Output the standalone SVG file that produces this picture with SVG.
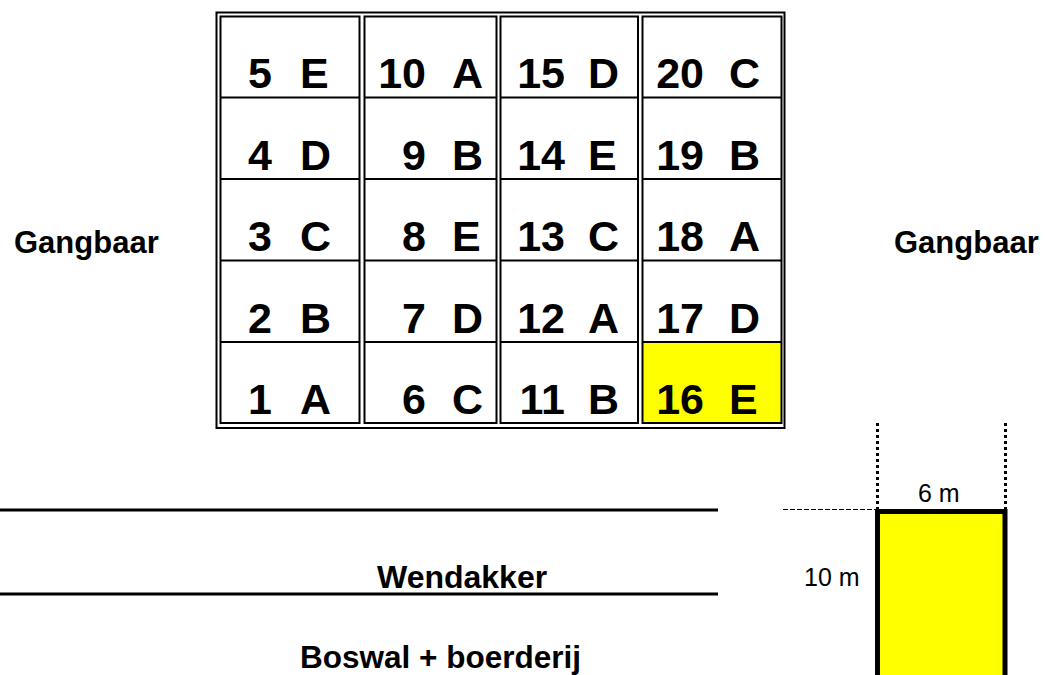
<svg xmlns="http://www.w3.org/2000/svg" width="1046" height="675" viewBox="0 0 1046 675">
<style>
.frame{fill:none;stroke:#000;stroke-width:2}
.row{stroke:#000;stroke-width:2}
.num{font-family:"Liberation Sans",Arial,sans-serif;font-weight:bold;font-size:43px;fill:#000}
.n{text-anchor:end}
.lbl{font-family:"Liberation Sans",Arial,sans-serif;font-weight:bold;font-size:31px;fill:#000}
.dim{font-family:"Liberation Sans",Arial,sans-serif;font-size:25px;fill:#000}
</style>
<rect width="1046" height="675" fill="#fff"/>
<g id="grid">
<rect class="frame" x="216.5" y="12.5" width="568" height="415.5"/>
<rect x="643" y="342" width="139" height="81" fill="#ffff00"/>
<rect class="frame" x="220.5" y="16.5" width="139" height="406.5"/>
<rect class="frame" x="364.5" y="16.5" width="132" height="406.5"/>
<rect class="frame" x="500.5" y="16.5" width="137.5" height="406.5"/>
<rect class="frame" x="642.5" y="16.5" width="139" height="406.5"/>
<g class="row">
<line x1="220.5" y1="97.5" x2="359.5" y2="97.5"/><line x1="220.5" y1="179" x2="359.5" y2="179"/><line x1="220.5" y1="260.5" x2="359.5" y2="260.5"/><line x1="220.5" y1="342" x2="359.5" y2="342"/>
<line x1="364.5" y1="97.5" x2="496.5" y2="97.5"/><line x1="364.5" y1="179" x2="496.5" y2="179"/><line x1="364.5" y1="260.5" x2="496.5" y2="260.5"/><line x1="364.5" y1="342" x2="496.5" y2="342"/>
<line x1="500.5" y1="97.5" x2="638" y2="97.5"/><line x1="500.5" y1="179" x2="638" y2="179"/><line x1="500.5" y1="260.5" x2="638" y2="260.5"/><line x1="500.5" y1="342" x2="638" y2="342"/>
<line x1="642.5" y1="97.5" x2="781.5" y2="97.5"/><line x1="642.5" y1="179" x2="781.5" y2="179"/><line x1="642.5" y1="260.5" x2="781.5" y2="260.5"/><line x1="642.5" y1="342" x2="781.5" y2="342"/>
</g>
</g>
<g id="cells">
<text class="num n" x="272" y="88">5</text><text class="num" x="300" y="88">E</text>
<text class="num n" x="272" y="169.5">4</text><text class="num" x="300" y="169.5">D</text>
<text class="num n" x="272" y="251">3</text><text class="num" x="300" y="251">C</text>
<text class="num n" x="272" y="332.5">2</text><text class="num" x="300" y="332.5">B</text>
<text class="num n" x="272" y="414">1</text><text class="num" x="300" y="414">A</text>
<text class="num n" x="426" y="88">10</text><text class="num" x="452" y="88">A</text>
<text class="num n" x="426" y="169.5">9</text><text class="num" x="452" y="169.5">B</text>
<text class="num n" x="426" y="251">8</text><text class="num" x="452" y="251">E</text>
<text class="num n" x="426" y="332.5">7</text><text class="num" x="452" y="332.5">D</text>
<text class="num n" x="426" y="414">6</text><text class="num" x="452" y="414">C</text>
<text class="num n" x="565" y="88">15</text><text class="num" x="588" y="88">D</text>
<text class="num n" x="565" y="169.5">14</text><text class="num" x="588" y="169.5">E</text>
<text class="num n" x="565" y="251">13</text><text class="num" x="588" y="251">C</text>
<text class="num n" x="565" y="332.5">12</text><text class="num" x="588" y="332.5">A</text>
<text class="num n" x="565" y="414">11</text><text class="num" x="588" y="414">B</text>
<text class="num n" x="704" y="88">20</text><text class="num" x="729" y="88">C</text>
<text class="num n" x="704" y="169.5">19</text><text class="num" x="729" y="169.5">B</text>
<text class="num n" x="704" y="251">18</text><text class="num" x="729" y="251">A</text>
<text class="num n" x="704" y="332.5">17</text><text class="num" x="729" y="332.5">D</text>
<text class="num n" x="704" y="414">16</text><text class="num" x="729" y="414">E</text>
</g>
<g id="labels">
<text class="lbl" x="14" y="253">Gangbaar</text>
<text class="lbl" x="894" y="253">Gangbaar</text>
<text class="lbl" x="377" y="588" style="font-size:32px">Wendakker</text>
<text class="lbl" x="300" y="668" style="font-size:31.5px">Boswal + boerderij</text>
</g>
<g id="wendakker-lines" stroke="#000" stroke-width="3">
<line x1="0" y1="510" x2="718" y2="510"/>
<line x1="0" y1="594" x2="718" y2="594"/>
</g>
<g id="plot">
<rect x="877.5" y="511.5" width="127.5" height="170" fill="#ffff00" stroke="#000" stroke-width="5"/>
<text class="dim" x="918" y="502">6 m</text>
<text class="dim" x="804" y="586">10 m</text>
</g>
<g id="connectors" fill="none" stroke="#000">
<line x1="877.5" y1="423" x2="877.5" y2="509" stroke-width="3" stroke-dasharray="3,3"/>
<line x1="1005.5" y1="423" x2="1005.5" y2="509" stroke-width="3" stroke-dasharray="3,3"/>
<line x1="783" y1="509.5" x2="875" y2="509.5" stroke-width="1" stroke-dasharray="5,2"/>
</g>
</svg>
